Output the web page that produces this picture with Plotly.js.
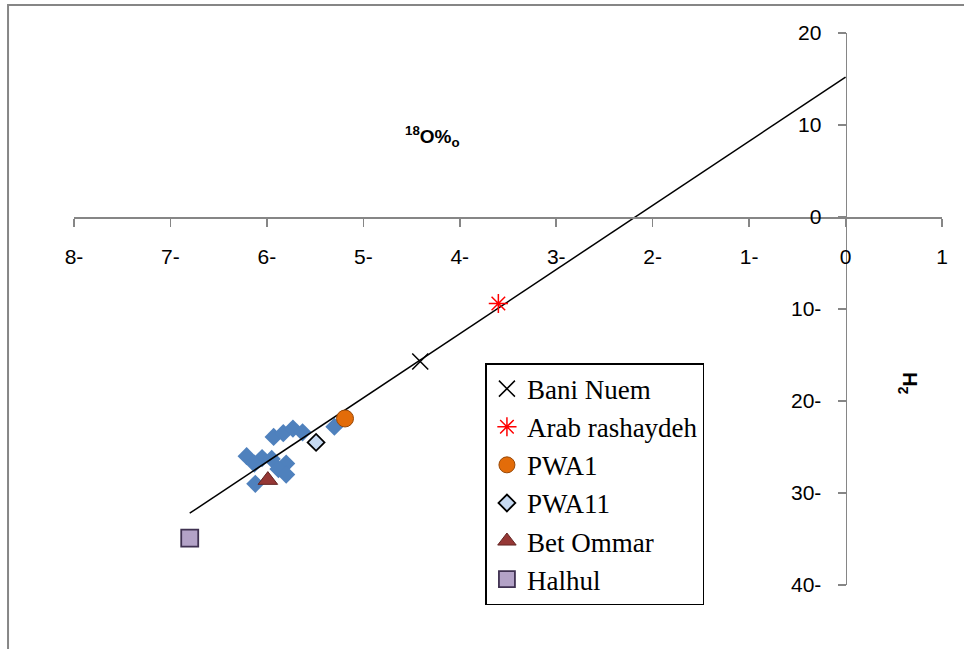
<!DOCTYPE html>
<html>
<head>
<meta charset="utf-8">
<script src="https://cdn.plot.ly/plotly-3.0.1.min.js"></script>
<style>html,body{margin:0;padding:0;background:#fff;}#chart{width:964px;height:649px;}</style>
</head>
<body>
<div id="chart"></div>
<script>
// Data
const clusterX = [-5.93, -5.83, -5.73, -5.63, -5.30, -6.21, -6.05, -5.95, -6.13, -5.80, -5.88, -5.80, -6.12];
const clusterY = [-23.9, -23.5, -23.0, -23.4, -22.8, -26.0, -26.2, -26.3, -26.8, -26.8, -27.4, -28.0, -29.0];
const lineX = [-6.8, 0];
const lineY = [-32.2, 15.2];
const baniNuemX = [-4.41], baniNuemY = [-15.7];
const arabX = [-3.60], arabY = [-9.4];
const pwa1X = [-5.19], pwa1Y = [-21.9];
const pwa11X = [-5.49], pwa11Y = [-24.5];
const betOmmarX = [-5.99], betOmmarY = [-28.6];
const halhulX = [-6.80], halhulY = [-34.9];
const xTickVals = [-8, -7, -6, -5, -4, -3, -2, -1, 0, 1];
const xTickText = ['8-', '7-', '6-', '5-', '4-', '3-', '2-', '1-', '0', '1'];
const yTickVals = [20, 10, 0, -10, -20, -30, -40];
const yTickText = ['20', '10', '0', '10-', '20-', '30-', '40-'];

const traces = [
  {x: clusterX, y: clusterY, mode: 'markers', type: 'scatter', showlegend: false,
   marker: {symbol: 'diamond', size: 14, color: '#4F81BD', line: {width: 0}}},
  {x: lineX, y: lineY, mode: 'lines', type: 'scatter', showlegend: false,
   line: {color: '#000', width: 1.5}},
  {x: baniNuemX, y: baniNuemY, name: 'Bani Nuem', mode: 'markers', type: 'scatter',
   marker: {symbol: 'x-thin-open', size: 16, color: '#000', line: {color: '#000', width: 1.5}}},
  {x: arabX, y: arabY, name: 'Arab rashaydeh', mode: 'markers', type: 'scatter',
   marker: {symbol: 'asterisk-open', size: 16, color: '#FF0000', line: {color: '#FF0000', width: 1.5}}},
  {x: pwa1X, y: pwa1Y, name: 'PWA1', mode: 'markers', type: 'scatter',
   marker: {symbol: 'circle', size: 17, color: '#E36C09', line: {color: '#984807', width: 1}}},
  {x: pwa11X, y: pwa11Y, name: 'PWA11', mode: 'markers', type: 'scatter',
   marker: {symbol: 'diamond', size: 13, color: '#C6D9F1', line: {color: '#000', width: 1.8}}},
  {x: betOmmarX, y: betOmmarY, name: 'Bet Ommar', mode: 'markers', type: 'scatter',
   marker: {symbol: 'triangle-up', size: 17, color: '#953735', line: {color: '#632523', width: 1}}},
  {x: halhulX, y: halhulY, name: 'Halhul', mode: 'markers', type: 'scatter',
   marker: {symbol: 'square', size: 17, color: '#B3A2C7', line: {color: '#3F3151', width: 1.8}}}
];

const axisFont = {family: 'Liberation Sans, Arial, sans-serif', size: 21, color: '#000'};

const layout = {
  width: 964, height: 649,
  margin: {l: 74, r: 21.5, t: 33, b: 64},
  paper_bgcolor: '#fff', plot_bgcolor: 'rgba(0,0,0,0)',
  showlegend: true,
  xaxis: {
    range: [-8, 1], anchor: 'free', position: 40/60,
    showline: true, linecolor: '#868686', linewidth: 1.5,
    ticks: 'outside', ticklen: 8, tickwidth: 1.5, tickcolor: '#868686',
    tickvals: xTickVals, ticktext: xTickText, tickfont: axisFont,
    ticklabelstandoff: 12,
    showgrid: false, zeroline: false, fixedrange: true
  },
  yaxis: {
    range: [-40, 20], anchor: 'free', position: 8/9, side: 'left',
    showline: true, linecolor: '#868686', linewidth: 1.5,
    ticks: 'outside', ticklen: 8, tickwidth: 1.5, tickcolor: '#868686',
    tickvals: yTickVals, ticktext: yTickText, tickfont: axisFont,
    ticklabelstandoff: 12,
    showgrid: false, zeroline: false, fixedrange: true
  },
  legend: {
    x: 0.474, y: 0.402, xanchor: 'left', yanchor: 'top',
    bgcolor: '#fff', bordercolor: '#000', borderwidth: 1.5,
    font: {family: 'Liberation Serif, Times New Roman, serif', size: 27, color: '#000'},
    tracegroupgap: 0
  },
  annotations: [
    {x: -4.28, y: 8.7, xref: 'x', yref: 'y', showarrow: false,
     text: '<b><sup>18</sup>O%<sub>o</sub></b>',
     font: {family: 'Liberation Sans, Arial, sans-serif', size: 19, color: '#000'}},
    {x: 0.978, y: 0.366, xref: 'paper', yref: 'paper', showarrow: false, textangle: -90,
     text: '<b><sup>2</sup>H</b>',
     font: {family: 'Liberation Sans, Arial, sans-serif', size: 20, color: '#000'}}
  ],
  shapes: [
    {type: 'rect', xref: 'paper', yref: 'paper', x0: -0.076, x1: 1.2, y0: -0.3, y1: 1.0507,
     line: {color: '#868686', width: 2}, fillcolor: 'rgba(0,0,0,0)', layer: 'below'}
  ]
};

Plotly.newPlot('chart', traces, layout, {displayModeBar: false, staticPlot: true});
</script>
</body>
</html>
